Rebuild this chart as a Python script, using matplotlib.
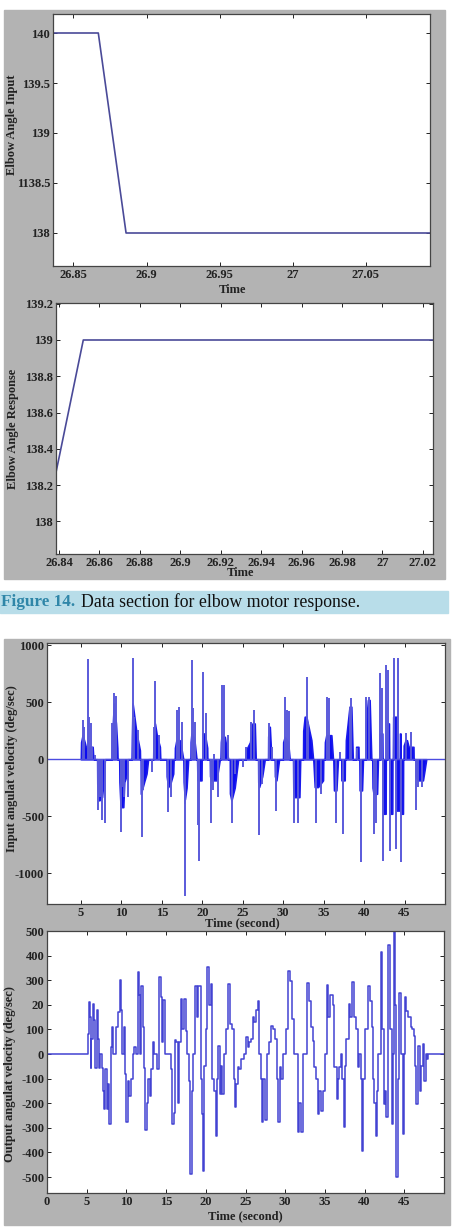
import matplotlib
matplotlib.use("Agg")
import matplotlib.pyplot as plt
from matplotlib.patches import Rectangle

plt.rcParams['font.family'] = ['Liberation Serif', 'DejaVu Serif']
plt.rcParams['font.size'] = 9

# ---- data ----
# Figure 14 (top): elbow angle input / response
input_t = [26.80, 26.867, 26.886, 27.10]
input_v = [140.0, 140.0, 138.0, 138.0]
response_t = [26.8385, 26.852, 27.03]
response_v = [138.27, 139.0, 139.0]

# input angular velocity: zero baseline, thin spikes, dense burst bodies
span_t = [0.0, 50.0]
span_v = [0.0, 0.0]
spikes = [
    (5.21, 344), (5.37, 285), (5.82, 878), (5.95, 373), (6.19, 314), (6.36, 109), (6.69, 35),
    (7.14, -449), (7.35, -332), (7.55, -537), (7.92, -561), (8.87, 314), (9.12, 584), (9.28, 555),
    (9.94, -640), (10.14, -244), (10.35, -332), (10.76, -332), (11.38, 887), (11.58, 373),
    (11.99, 256), (12.49, -684), (12.70, -273), (13.72, -112), (14.05, 285), (14.18, 690),
    (14.59, 211), (15.74, -464), (16.07, -332), (16.81, 432), (17.14, 461), (17.43, 329),
    (17.80, -391), (17.92, -1201), (18.74, 872), (18.87, 446), (19.07, 329), (19.49, -581),
    (19.61, -890), (20.14, 764), (20.51, 402), (21.05, -561), (21.34, -273), (21.46, 50),
    (22.00, -332), (22.49, 652), (22.65, 652), (23.19, 211), (23.68, -561), (24.01, -126),
    (25.04, -68), (25.45, 109), (26.07, 329), (26.40, 432), (27.02, -661), (27.43, -214),
    (28.25, 320), (28.66, 109), (29.12, -455), (30.23, 543), (30.47, 432), (30.72, 426),
    (31.38, -561), (31.83, -561), (32.90, 720), (33.10, 329), (34.01, -561), (34.71, -308),
    (35.45, 543), (35.62, 534), (36.48, -561), (37.06, 65), (37.39, -655), (38.21, 461),
    (38.42, 534), (39.12, 103), (39.65, -905), (40.27, 543), (40.60, 543), (41.17, -655),
    (41.42, -561), (41.91, 755), (42.16, 623), (42.33, -890), (42.74, 828), (42.98, 784),
    (43.23, -802), (43.64, 887), (43.97, -787), (44.22, 887), (44.59, -905), (45.12, 226),
    (45.82, 235), (46.44, -449), (46.65, -244), (47.18, -244),
]
bodies = [
    (4.98, 0), (5.02, 150), (5.2, 211), (5.45, 150), (5.6, 109), (6.44, 109), (6.5, 35), (6.6, 0),
    (7.0, 0), (7.02, -214), (7.26, -361), (7.6, -332), (7.76, -214), (7.96, 0),
    (8.79, 0), (8.82, 150), (9.07, 490), (9.32, 314), (9.49, 100), (9.52, 0),
    (9.73, 0), (9.76, -200), (9.9, -420), (10.23, -420), (10.35, -200), (10.72, -126), (10.75, 0),
    (11.26, 0), (11.3, 200), (11.38, 490), (11.87, 226), (12.28, 79), (12.3, 0),
    (12.38, 0), (12.4, -303), (12.8, -200), (13.1, -126), (13.3, 0),
    (13.93, 0), (13.96, 150), (14.14, 314), (14.4, 200), (14.75, 109), (14.8, 0),
    (15.58, 0), (15.6, -150), (15.78, -244), (16.1, -200), (16.4, -126), (16.45, 0),
    (16.6, 0), (16.62, 100), (16.8, 167), (17.2, 167), (17.4, 100), (17.64, 0),
    (17.66, 0), (17.7, -200), (17.84, -352), (18.05, -250), (18.25, 0),
    (18.54, 0), (18.56, 150), (18.66, 226), (19.0, 180), (19.28, 0),
    (19.36, 0), (19.4, -185), (19.9, -185), (19.92, 0),
    (20.02, 0), (20.05, 226), (20.3, 226), (20.6, 100), (20.62, 0),
    (20.93, 0), (20.96, -150), (21.13, -185), (21.75, -185), (22.16, 0),
    (22.25, 0), (22.3, 150), (22.37, 197), (22.78, 197), (23.19, 0),
    (23.4, 0), (23.42, -300), (23.6, -361), (24.0, -250), (24.43, 0),
    (25.37, 0), (25.4, 79), (25.9, 150), (26.2, 314), (26.48, 314), (26.6, 0),
    (26.9, 0), (26.92, -200), (27.02, -244), (27.4, -150), (27.72, 0),
    (28.13, 0), (28.15, 200), (28.34, 285), (28.54, 0),
    (28.95, 0), (28.98, -150), (29.16, -185), (29.49, 0),
    (29.98, 0), (30.0, 150), (30.19, 197), (30.6, 150), (30.8, 0),
    (31.22, 0), (31.25, -250), (31.4, -332), (32.0, -332), (32.1, 0),
    (32.45, 0), (32.48, 250), (32.66, 373), (32.86, 373), (33.48, 167), (33.69, 0),
    (33.72, 0), (33.9, -244), (34.3, -244), (34.92, -185), (34.95, 0),
    (35.13, 0), (35.16, 150), (35.33, 211), (35.95, 211), (36.15, 0),
    (36.2, 0), (36.28, -273), (36.57, -273), (36.77, 0),
    (37.18, 0), (37.2, -185), (37.6, -185), (37.62, 0),
    (37.72, 0), (37.75, 167), (38.2, 461), (38.42, 461), (38.6, 0),
    (39.0, 0), (39.02, 109), (39.3, 109), (39.32, 0),
    (39.42, 0), (39.45, -273), (39.74, -273), (39.86, 0),
    (40.19, 0), (40.22, 300), (40.48, 520), (40.68, 520), (40.89, 0),
    (41.01, 0), (41.05, -250), (41.17, -303), (41.6, -303), (41.71, 0),
    (41.92, 0), (41.95, 226), (42.25, 226), (42.28, 0),
    (42.33, 0), (42.36, -478), (42.66, -478), (42.68, 0),
    (42.82, 0), (42.85, 314), (43.07, 314), (43.1, 0),
    (43.15, 0), (43.18, -478), (43.48, -478), (43.5, 0),
    (43.56, 0), (43.6, 373), (43.95, 373), (43.97, 0),
    (43.99, 0), (44.02, -450), (44.37, -450), (44.39, 0),
    (44.41, 0), (44.43, 226), (44.5, 226), (44.51, 0),
    (44.53, 0), (44.55, -478), (44.8, -478), (44.82, 0),
    (44.88, 0), (44.9, 120), (45.13, 167), (45.29, 167), (45.5, 109), (46.1, 109), (46.12, 0),
    (46.36, 0), (46.4, -150), (46.65, -185), (47.27, -185), (47.47, -97), (47.68, 0),
]

# output angular velocity (stair-like trace)
output = [
    (0, 0), (5.1, 0), (5.15, 80), (5.25, 210), (5.4, 150), (5.5, -55), (5.6, 60), (5.8, 205),
    (5.95, 140), (6.1, -55), (6.25, 180), (6.4, 60), (6.55, -55), (6.7, 0), (6.9, -55),
    (7.05, -150), (7.2, -225), (7.35, -60), (7.5, -225), (7.7, -120), (7.85, -285), (8.0, 30),
    (8.15, 110), (8.3, 0), (8.55, 0), (8.7, 110), (8.9, 170), (9.2, 300), (9.35, 180), (9.5, 0),
    (9.65, 110), (9.8, -80), (9.95, -275), (10.15, -110), (10.35, -170), (10.55, -100), (10.8, 0),
    (11.0, 30), (11.2, 0), (11.4, 335), (11.55, 240), (11.7, 0), (11.9, 275), (12.05, 110),
    (12.2, -55), (12.4, -310), (12.55, -200), (12.75, -100), (12.95, -170), (13.1, -60),
    (13.3, 50), (13.45, 0), (13.7, 0), (13.85, -60), (14.1, 315), (14.3, 230), (14.45, 50),
    (14.6, 220), (14.8, 0), (15.5, 0), (15.6, -60), (15.8, -285), (15.95, -240), (16.1, 55),
    (16.29, 50), (16.45, -200), (16.6, 50), (16.83, 223), (17.04, 100), (17.21, 223), (17.46, 95),
    (17.63, 0), (17.88, -108), (18.05, -488), (18.21, -150), (18.38, 0), (18.67, 277), (18.84, 150),
    (19.01, 277), (19.34, 217), (19.43, -100), (19.51, -244), (19.64, -474), (19.8, -50),
    (19.97, 100), (20.18, 352), (20.39, 200), (20.6, 284), (20.77, -100), (21.02, -150),
    (21.23, -332), (21.4, -100), (21.52, 33), (21.73, -163), (21.9, -50), (22.07, -163),
    (22.23, 0), (22.49, 100), (22.78, 284), (23.07, 122), (23.32, 100), (23.49, -100),
    (23.66, -217), (23.82, -120), (24.03, -54), (24.24, -60), (24.45, -20), (24.75, 0),
    (25.08, 68), (25.29, 30), (25.5, 50), (25.71, 61), (25.92, 150), (26.13, 130), (26.34, 180),
    (26.55, 217), (26.76, 0), (26.97, -100), (27.09, -278), (27.26, -100), (27.51, -270),
    (27.68, 0), (27.93, 50), (28.22, 115), (28.52, 100), (28.77, 61), (28.93, -100),
    (29.14, -278), (29.31, -54), (29.52, -100), (29.77, 0), (30.11, 100), (30.32, 338),
    (30.61, 297), (30.86, 142), (31.07, 0), (31.36, 0), (31.57, -318), (31.74, -200),
    (31.99, -318), (32.2, 0), (32.7, 287), (32.95, 217), (33.25, 108), (33.46, 54), (33.66, -54),
    (33.87, -100), (34.08, -244), (34.29, -150), (34.5, -230), (34.8, -149), (34.96, 0),
    (35.21, 280), (35.42, 150), (35.63, 240), (35.97, 198), (36.18, -54), (36.47, -183),
    (36.64, -100), (36.81, -54), (37.01, 0), (37.18, -100), (37.35, -298), (37.52, -50),
    (37.64, 61), (37.98, 203), (38.19, 150), (38.4, 291), (38.69, 150), (38.9, 100),
    (39.11, -54), (39.32, 0), (39.49, -100), (39.61, -393), (39.78, -100), (39.99, 100),
    (40.45, 277), (40.66, 217), (40.91, 108), (41.08, -100), (41.24, -200), (41.41, -332),
    (41.58, -150), (41.75, 0), (42.04, 413), (42.25, 100), (42.46, -203), (42.63, -150),
    (42.75, -257), (42.96, 443), (43.17, 100), (43.42, -285), (43.59, 0), (43.71, 508),
    (43.84, 200), (44.01, -501), (44.18, -100), (44.38, 250), (44.59, 0), (44.85, -325),
    (44.97, 0), (45.1, 230), (45.26, 176), (45.51, 150), (45.81, 108), (46.02, 100),
    (46.23, 75), (46.35, -50), (46.52, -203), (46.77, 34), (46.94, -149), (47.15, -50),
    (47.36, 40), (47.48, -108), (47.69, 0), (47.82, -20), (47.94, 0), (50.0, 0),
]

angle_xticks_1 = [26.85, 26.9, 26.95, 27.0, 27.05]
angle_xlabels_1 = ['26.85', '26.9', '26.95', '27', '27.05']
angle_yticks_1 = [138, 138.5, 139, 139.5, 140]
angle_ylabels_1 = ['138', '1138.5', '139', '139.5', '140']
angle_xticks_2 = [26.84, 26.86, 26.88, 26.9, 26.92, 26.94, 26.96, 26.98, 27.0, 27.02]
angle_xlabels_2 = ['26.84', '26.86', '26.88', '26.9', '26.92', '26.94', '26.96', '26.98', '27', '27.02']
angle_yticks_2 = [138, 138.2, 138.4, 138.6, 138.8, 139, 139.2]
angle_ylabels_2 = ['138', '138.2', '138.4', '138.6', '138.8', '139', '139.2']
vel_in_yticks = [-1000, -500, 0, 500, 1000]
vel_in_ylabels = ['-1000', '-500', '0', '500', '1000']
vel_xticks_in = [5, 10, 15, 20, 25, 30, 35, 40, 45]
vel_xticks_out = [0, 5, 10, 15, 20, 25, 30, 35, 40, 45]
vel_out_yticks = [-500, -400, -300, -200, -100, 0, 100, 200, 300, 400, 500]
vel_out_ylabels = ['-500', '-400', '-300', '-200', '-100', '0', '100', '20', '300', '400', '500']

W, H = 461, 1230
fig = plt.figure(figsize=(W / 100, H / 100), dpi=100)


def frac(x0, y0, x1, y1):
    # pixel box (top-left origin) -> figure fraction
    return [x0 / W, 1 - y1 / H, (x1 - x0) / W, (y1 - y0) / H]


gray = '#b3b3b3'
fig.patches.append(Rectangle(frac(4, 10, 445, 579)[:2], 441 / W, 569 / H,
                             transform=fig.transFigure, color=gray, zorder=-10))
fig.patches.append(Rectangle(frac(4, 639, 450, 1225)[:2], 446 / W, 586 / H,
                             transform=fig.transFigure, color=gray, zorder=-10))
fig.patches.append(Rectangle(frac(0, 591, 448, 613)[:2], 448 / W, 22 / H,
                             transform=fig.transFigure, color='#b8dde9', zorder=-10))
fig.text(1 / W, 1 - 602 / H, 'Figure 14.', color='#2f86a8', fontsize=12.3,
         fontweight='bold', va='center', ha='left')
fig.text(81 / W, 1 - 602 / H, 'Data section for elbow motor response.', color='#111111',
         fontsize=12.8, va='center', ha='left')


def style(ax, xlab, ylab, xl, yl):
    ax.set_facecolor('white')
    ax.tick_params(direction='in', length=3, width=0.7, top=True, right=True,
                   pad=2, labelsize=9, colors='#222222')
    for lab in ax.get_xticklabels() + ax.get_yticklabels():
        lab.set_fontweight('bold')
    for s in ax.spines.values():
        s.set_color('#444444')
        s.set_linewidth(0.9)
    ax.set_xlabel(xlab, fontsize=9, color='#222222', fontweight='bold', va='center')
    ax.set_ylabel(ylab, fontsize=9, color='#222222', fontweight='bold', va='center')
    ax.xaxis.set_label_coords(*xl)
    ax.yaxis.set_label_coords(*yl)


line_c = '#4a4a98'

ax1 = fig.add_axes(frac(53, 14, 430, 266))
ax1.plot(input_t, input_v, color=line_c, lw=1.2)
ax1.set_xlim(26.836, 27.094)
ax1.set_ylim(137.67, 140.19)
ax1.set_xticks(angle_xticks_1, angle_xlabels_1)
ax1.set_yticks(angle_yticks_1, angle_ylabels_1)
style(ax1, 'Time', 'Elbow Angle Input', (0.475, -0.095), (-0.11, 0.56))

ax2 = fig.add_axes(frac(56, 303, 433, 554))
ax2.plot(response_t, response_v, color=line_c, lw=1.2)
ax2.set_xlim(26.8385, 27.025)
ax2.set_ylim(137.82, 139.204)
ax2.set_xticks(angle_xticks_2, angle_xlabels_2)
ax2.set_yticks(angle_yticks_2, angle_ylabels_2)
style(ax2, 'Time', 'Elbow Angle Response', (0.49, -0.076), (-0.114, 0.5))

ax3 = fig.add_axes(frac(47, 643, 445, 904))
ax3.plot(span_t, span_v, color='#4b4be0', lw=1.0)
body_t = [p[0] for p in bodies]
body_v = [p[1] for p in bodies]
ax3.fill_between(body_t, body_v, 0, facecolor='#0c0cf0', edgecolor='#1a1aec', lw=1.2)
ax3.vlines([p[0] for p in spikes], 0, [p[1] for p in spikes], color='#5a5ada', lw=1.4)
ax3.set_xlim(0.8, 50)
ax3.set_ylim(-1270, 1020)
ax3.set_xticks(vel_xticks_in)
ax3.set_yticks(vel_in_yticks, vel_in_ylabels)
style(ax3, 'Time (second)', 'Input angulat velocity (deg/sec)', (0.49, -0.073), (-0.088, 0.517))

ax4 = fig.add_axes(frac(47, 931, 444, 1193))
ax4.plot([p[0] for p in output], [p[1] for p in output], color='#4343d2', lw=1.1,
         drawstyle='steps-post')
ax4.set_xlim(0, 50)
ax4.set_ylim(-565, 500)
ax4.set_xticks(vel_xticks_out)
ax4.set_yticks(vel_out_yticks, vel_out_ylabels)
style(ax4, 'Time (second)', 'Output angulat velocity (deg/sec)', (0.5, -0.088), (-0.093, 0.454))

fig.savefig('out.png', dpi=100)
